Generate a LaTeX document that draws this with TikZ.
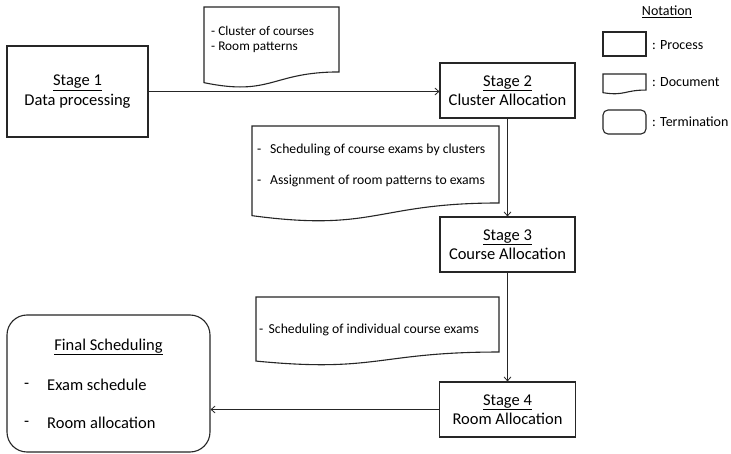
\documentclass[tikz,border=0pt]{standalone}
\usepackage{fontspec}
\setmainfont{Carlito}
\usetikzlibrary{arrows.meta}
\newcommand\docshape[4]{%
  \draw[docline] ({#1},{#2}) -- ({#1+#3},{#2}) -- ({#1+#3},{#2+0.802*#4})
    .. controls ({#1+0.5*#3},{#2+0.802*#4}) and ({#1+0.5*#3},{#2+1.107*#4}) ..
    ({#1},{#2+0.934*#4}) -- cycle;}
\begin{document}
\begin{tikzpicture}[x=1pt,y=-1pt,
  proc/.style={draw=black!85, line width=1.1pt, inner sep=0pt, align=center,
    font=\fontsize{16.5}{19.5}\selectfont},
  docline/.style={draw=black!85, line width=1.1pt},
  txt/.style={inner sep=0pt, align=left, anchor=west},
  big/.style={font=\fontsize{16.5}{19}\selectfont},
  arr/.style={draw=black!85, line width=0.8pt, -{Straight Barb[length=4pt,width=7pt]}}]
\useasboundingbox[fill=white] (0,0) rectangle (731,454);

% stages
\node[proc, minimum width=141pt, minimum height=91pt] (s1) at (77.5,91.5) {\underline{Stage 1}\\Data processing};
\node[proc, minimum width=135pt, minimum height=55pt] (s2) at (507.5,90.5) {\underline{Stage 2}\\Cluster Allocation};
\node[proc, minimum width=135pt, minimum height=55pt] (s3) at (507.5,244.5) {\underline{Stage 3}\\Course Allocation};
\node[proc, minimum width=136pt, minimum height=55pt] (s4) at (507.5,409.5) {\underline{Stage 4}\\Room Allocation};
\node[proc, rounded corners=20pt, minimum width=203pt, minimum height=137pt] (fin) at (108.5,383.5) {};

\node[inner sep=0pt, big] (fint) at (108.5,347) {\underline{Final Scheduling}};
\node[txt, big] (fd1) at (24,386) {-};
\node[txt, big] (ft1) at (47,385) {Exam schedule};
\node[txt, big] (fd2) at (24,424) {-};
\node[txt, big] (ft2) at (47,423) {Room allocation};

% documents
\docshape{204}{7}{135}{81}
\node[txt, font=\fontsize{13.3}{15.5}\selectfont] (d1) at (211,39.5) {- Cluster of courses\\- Room patterns};
\docshape{252}{126}{247}{96}
\node[txt, font=\fontsize{13.7}{31}\selectfont] (d2) at (257,165.5) {\makebox[13pt][l]{-}Scheduling of course exams by clusters\\\makebox[13pt][l]{-}Assignment of room patterns to exams};
\docshape{256}{297}{243}{68.6}
\node[txt, font=\fontsize{13.7}{16}\selectfont] (d3) at (259,330) {\makebox[9.5pt][l]{-}Scheduling of individual course exams};

% connectors
\draw[arr] (s1.east) -- (s1.east -| s2.west);
\draw[arr] (s2.south) -- (s3.north);
\draw[arr] (s3.south) -- (s4.north);
\draw[arr] (s4.west) -- (s4.west -| fin.east);

% notation
\node[inner sep=0pt, font=\fontsize{14}{16}\selectfont] (nt) at (667,12) {\underline{Notation}};
\node[draw=black!85, line width=1.1pt, minimum width=43pt, minimum height=24pt, inner sep=0pt] (np) at (624.5,44) {};
\docshape{603}{74}{43}{20}
\node[draw=black!85, line width=1.1pt, rounded corners=5pt, minimum width=43pt, minimum height=24pt, inner sep=0pt] (nm) at (624.5,122) {};
\node[txt, font=\fontsize{14}{16}\selectfont] (lp) at (652,45) {: Process};
\node[txt, font=\fontsize{14}{16}\selectfont] (ld) at (652,82) {: Document};
\node[txt, font=\fontsize{14}{16}\selectfont] (lm) at (652,122) {: Termination};
\end{tikzpicture}
\end{document}
